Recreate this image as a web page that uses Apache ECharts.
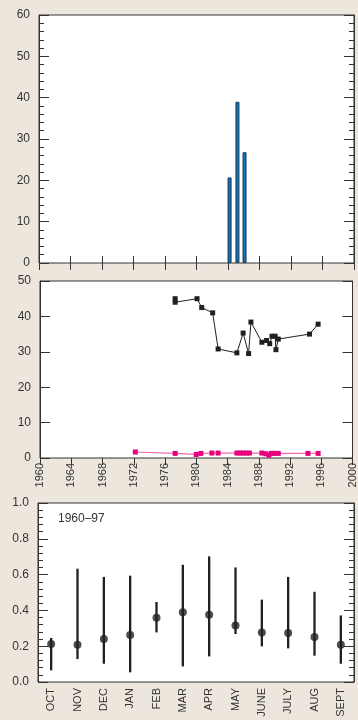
<!DOCTYPE html>
<html>
<head>
<meta charset="utf-8">
<script src="https://cdn.jsdelivr.net/npm/echarts@6/dist/echarts.min.js"></script>
<style>
  html, body { margin: 0; padding: 0; background: #ede6dc; }
  #main { width: 358px; height: 720px; }
</style>
</head>
<body>
<div id="main"></div>
<script>
// top panel: bars by year
var barYears = [1984.2, 1985.2, 1986.1];
var barValues = [20.7, 39.0, 26.8];

// middle panel: two series by decimal year
var blackYears = [1977.3, 1977.3, 1980.1, 1980.7, 1982.1, 1982.8, 1985.2, 1986.0, 1986.7, 1987.0,
  1988.4, 1989.0, 1989.4, 1989.7, 1990.1, 1990.2, 1990.5, 1994.5, 1995.6];
var blackValues = [45.0, 44.0, 45.0, 42.5, 41.0, 30.8, 29.7, 35.3, 29.5, 38.4,
  32.7, 33.2, 32.3, 34.4, 34.4, 30.6, 33.6, 35.0, 37.8];
var pinkYears = [1972.2, 1977.3, 1980.0, 1980.6, 1982.0, 1982.8, 1985.2, 1985.6, 1986.0, 1986.4,
  1986.8, 1988.4, 1988.9, 1989.3, 1989.6, 1990.0, 1990.5, 1994.3, 1995.6];
var pinkValues = [1.7, 1.3, 1.0, 1.3, 1.4, 1.4, 1.4, 1.4, 1.4, 1.4,
  1.4, 1.4, 1.2, 0.8, 1.3, 1.3, 1.3, 1.3, 1.3];

// bottom panel: monthly mean with range
var months = ['OCT', 'NOV', 'DEC', 'JAN', 'FEB', 'MAR', 'APR', 'MAY', 'JUNE', 'JULY', 'AUG', 'SEPT'];
var monthMean = [0.212, 0.208, 0.240, 0.262, 0.359, 0.389, 0.376, 0.315, 0.277, 0.274, 0.251, 0.208];
var monthLow = [0.065, 0.128, 0.102, 0.054, 0.277, 0.087, 0.143, 0.268, 0.199, 0.188, 0.147, 0.102];
var monthHigh = [0.246, 0.633, 0.587, 0.594, 0.447, 0.655, 0.702, 0.640, 0.460, 0.587, 0.504, 0.372];

var font = 'Liberation Sans, Arial, sans-serif';
var txt = '#333';
var line = '#333';

function pairs(xs, ys) {
  return xs.map(function (x, i) { return [x, ys[i]]; });
}

function xYear(grid, pos, labels, ticks) {
  return {
    type: 'value', gridIndex: grid, position: pos, min: 1960, max: 2000, interval: 4,
    axisLine: { show: false },
    splitLine: { show: false },
    axisTick: { show: ticks, inside: true, length: 7, lineStyle: { color: line } },
    axisLabel: labels ? {
      show: true, rotate: 90, margin: 5, color: txt, fontSize: 11, fontFamily: font,
      showMinLabel: true, showMaxLabel: true,
      formatter: function (v) { return String(v); }
    } : { show: false }
  };
}

// y ticks only draw when the axis line is on (it sits on the grid border anyway)
function yAxis(grid, pos, min, max, interval, minor, labels, fmt) {
  return {
    type: 'value', gridIndex: grid, position: pos, min: min, max: max, interval: interval,
    axisLine: { show: true, lineStyle: { color: line } },
    splitLine: { show: false },
    axisTick: { show: true, inside: true, length: 10, lineStyle: { color: line } },
    minorTick: { show: minor, splitNumber: 5, length: 5, lineStyle: { color: line } },
    axisLabel: labels ? {
      show: true, margin: 9, color: txt, fontSize: 12, fontFamily: font,
      formatter: fmt
    } : { show: false }
  };
}

var grids = [
  { left: 39, top: 15, width: 315, height: 248 },
  { left: 40, top: 281, width: 314, height: 177 },
  { left: 38, top: 503, width: 316, height: 179 }
].map(function (g) {
  g.show = true;
  g.backgroundColor = '#fff';
  g.borderColor = line;
  g.borderWidth = 1;
  return g;
});

var chart = echarts.init(document.getElementById('main'));
chart.setOption({
  backgroundColor: '#ede6dc',
  animation: false,
  textStyle: { fontFamily: font },
  grid: grids,
  xAxis: [
    xYear(0, 'bottom', false, true),
    xYear(0, 'top', false, true),
    xYear(1, 'bottom', true, false),
    xYear(1, 'top', false, true),
    {
      type: 'category', gridIndex: 2, data: months, boundaryGap: true,
      axisLine: { show: false },
      axisTick: { show: false },
      axisLabel: { rotate: 90, margin: 6, color: txt, fontSize: 11, fontFamily: font, interval: 0 }
    }
  ],
  yAxis: [
    yAxis(0, 'left', 0, 60, 10, true, true),
    yAxis(0, 'right', 0, 60, 10, true, false),
    yAxis(1, 'left', 0, 50, 10, false, true),
    yAxis(1, 'right', 0, 50, 10, false, false),
    yAxis(2, 'left', 0, 1, 0.2, true, true, function (v) { return v.toFixed(1); }),
    yAxis(2, 'right', 0, 1, 0.2, true, false)
  ],
  graphic: [
    {
      type: 'text', left: 58, top: 513,
      style: { text: '1960–97', fill: txt, font: '12px ' + font }
    }
  ],
  series: [
    {
      type: 'bar', xAxisIndex: 0, yAxisIndex: 0,
      data: pairs(barYears, barValues),
      barWidth: 4,
      itemStyle: { color: '#0a72b8', borderColor: '#1d3b55', borderWidth: 1 }
    },
    {
      type: 'line', xAxisIndex: 2, yAxisIndex: 2,
      data: pairs(pinkYears, pinkValues),
      symbol: 'rect', symbolSize: 5, showAllSymbol: true,
      lineStyle: { color: '#f06aa9', width: 1.2 },
      itemStyle: { color: '#e6007e' }
    },
    {
      type: 'line', xAxisIndex: 2, yAxisIndex: 2,
      data: pairs(blackYears, blackValues),
      symbol: 'rect', symbolSize: 5, showAllSymbol: true,
      lineStyle: { color: '#231f20', width: 1 },
      itemStyle: { color: '#231f20' }
    },
    {
      type: 'custom', xAxisIndex: 4, yAxisIndex: 4,
      data: months.map(function (m, i) { return [i, monthLow[i], monthHigh[i]]; }),
      renderItem: function (params, api) {
        var lo = api.coord([api.value(0), api.value(1)]);
        var hi = api.coord([api.value(0), api.value(2)]);
        return {
          type: 'line',
          shape: { x1: lo[0], y1: lo[1], x2: hi[0], y2: hi[1] },
          style: { stroke: '#231f20', lineWidth: 2.3 }
        };
      }
    },
    {
      type: 'scatter', xAxisIndex: 4, yAxisIndex: 4,
      data: monthMean,
      symbol: 'circle', symbolSize: 8,
      itemStyle: { color: '#231f20' }
    }
  ]
});
</script>
</body>
</html>
